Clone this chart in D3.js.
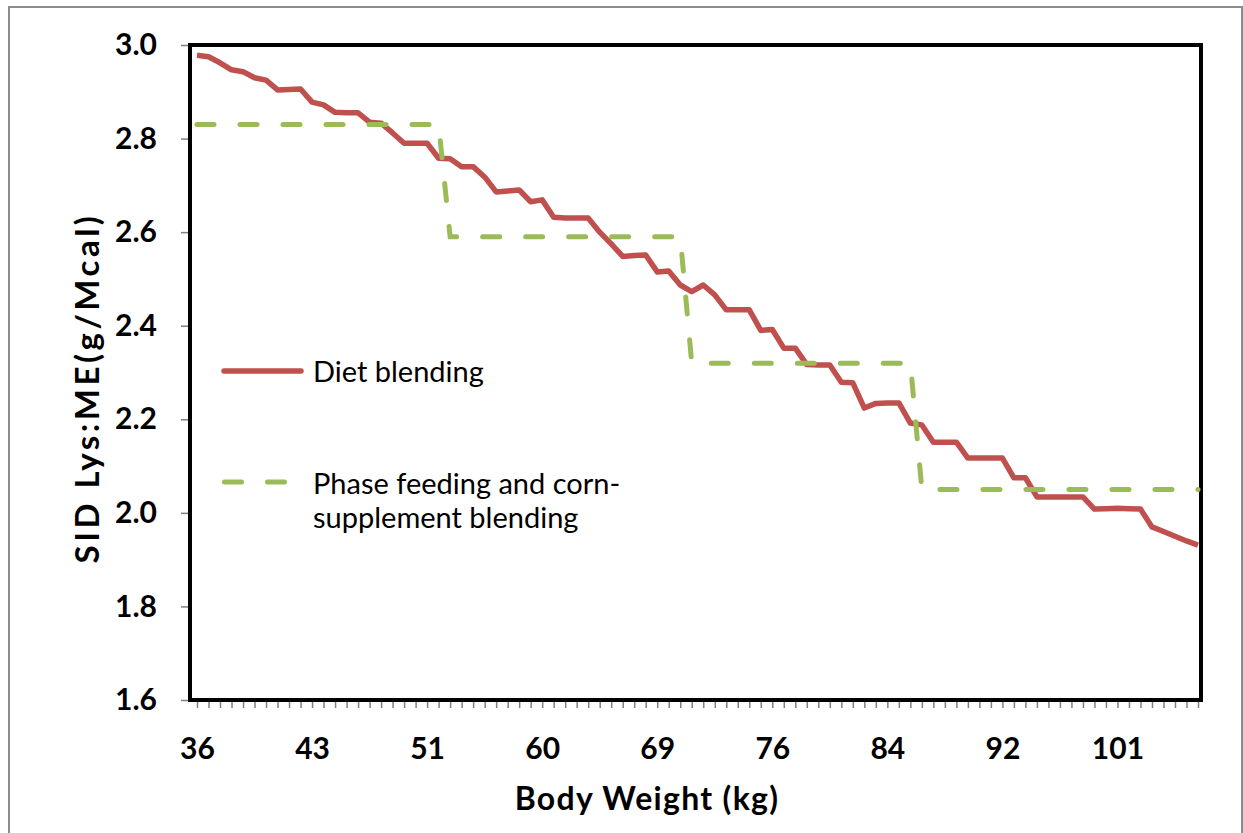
<!DOCTYPE html>
<html>
<head>
<meta charset="utf-8">
<script src="https://cdn.jsdelivr.net/npm/d3@7"></script>
<style>
  body { margin: 0; background: #fff; }
  text { font-family: Lato, 'DejaVu Sans', sans-serif; fill: #000; }
</style>
</head>
<body>
<svg id="chart" width="1243" height="833"></svg>
<script>
// x labels, shown on every 10th category
const tickLabels = ['36', '43', '51', '60', '69', '76', '84', '92', '101']

const dietBlending = [
  2.978, 2.975, 2.962, 2.947, 2.943, 2.930, 2.925, 2.904, 2.905, 2.906,
  2.878, 2.872, 2.856, 2.855, 2.855, 2.835, 2.833, 2.812, 2.790, 2.790,
  2.790, 2.758, 2.757, 2.740, 2.740, 2.718, 2.686, 2.688, 2.690, 2.665,
  2.669, 2.632, 2.630, 2.630, 2.630, 2.600, 2.575, 2.548, 2.550, 2.551,
  2.515, 2.517, 2.487, 2.473, 2.487, 2.466, 2.434, 2.434, 2.434, 2.390,
  2.392, 2.352, 2.352, 2.317, 2.316, 2.316, 2.279, 2.278, 2.224, 2.234,
  2.235, 2.235, 2.192, 2.188, 2.151, 2.151, 2.151, 2.117, 2.117, 2.117,
  2.117, 2.075, 2.075, 2.034, 2.034, 2.034, 2.034, 2.034, 2.008, 2.009,
  2.010, 2.009, 2.008, 1.970, 1.960, 1.950, 1.940, 1.931
]

const phaseFeeding = [
  2.83, 2.83, 2.83, 2.83, 2.83, 2.83, 2.83, 2.83, 2.83, 2.83,
  2.83, 2.83, 2.83, 2.83, 2.83, 2.83, 2.83, 2.83, 2.83, 2.83,
  2.83, 2.83, 2.59, 2.59, 2.59, 2.59, 2.59, 2.59, 2.59, 2.59,
  2.59, 2.59, 2.59, 2.59, 2.59, 2.59, 2.59, 2.59, 2.59, 2.59,
  2.59, 2.59, 2.59, 2.32, 2.32, 2.32, 2.32, 2.32, 2.32, 2.32,
  2.32, 2.32, 2.32, 2.32, 2.32, 2.32, 2.32, 2.32, 2.32, 2.32,
  2.32, 2.32, 2.32, 2.05, 2.05, 2.05, 2.05, 2.05, 2.05, 2.05,
  2.05, 2.05, 2.05, 2.05, 2.05, 2.05, 2.05, 2.05, 2.05, 2.05,
  2.05, 2.05, 2.05, 2.05, 2.05, 2.05, 2.05, 2.05
]

const yTicks = [1.6, 1.8, 2.0, 2.2, 2.4, 2.6, 2.8, 3.0]

const legendNames = [['Diet blending'], ['Phase feeding and corn-', 'supplement blending']]

const red = '#c0504d'
const green = '#9bbb59'

const svg = d3.select('#chart')

const plot = { left: 190, top: 45, right: 1201, bottom: 700 }

const categories = d3.range(dietBlending.length)

const x = d3.scalePoint()
  .domain(categories)
  .range([plot.left + 7, plot.right - 3])
const y = d3.scaleLinear()
  .domain([1.6, 3.0])
  .range([plot.bottom, plot.top])

// outer chart border
svg.append('rect')
  .attr('x', 9)
  .attr('y', 7)
  .attr('width', 1233)
  .attr('height', 840)
  .attr('fill', 'none')
  .attr('stroke', '#8c8c8c')
  .attr('stroke-width', 2)

const yAxis = svg.append('g')
  .attr('transform', 'translate(' + plot.left + ',0)')
  .call(d3.axisLeft(y)
    .tickValues(yTicks)
    .tickFormat(d3.format('.1f'))
    .tickSize(9)
    .tickPadding(24))
yAxis.select('.domain').remove()
yAxis.selectAll('line').attr('stroke', '#808080').attr('stroke-width', 1.5)
yAxis.selectAll('text')
  .attr('font-size', 30)
  .attr('font-weight', 'bold')
  .attr('font-family', 'Lato')

const xAxis = svg.append('g')
  .attr('transform', 'translate(0,' + plot.bottom + ')')
  .call(d3.axisBottom(x)
    .tickValues(categories)
    .tickFormat(i => i % 10 === 0 ? tickLabels[i / 10] : '')
    .tickSize(8)
    .tickPadding(30))
xAxis.select('.domain').remove()
xAxis.selectAll('line').attr('stroke', '#808080').attr('stroke-width', 1.5)
xAxis.selectAll('text')
  .attr('font-size', 30)
  .attr('font-weight', 'bold')
  .attr('font-family', 'Lato')

// plot frame
svg.append('rect')
  .attr('x', plot.left)
  .attr('y', plot.top)
  .attr('width', plot.right - plot.left)
  .attr('height', plot.bottom - plot.top)
  .attr('fill', 'none')
  .attr('stroke', '#000')
  .attr('stroke-width', 4)

const line = d3.line()
  .x((d, i) => x(i))
  .y(d => y(d))

svg.append('path')
  .datum(dietBlending)
  .attr('d', line)
  .attr('fill', 'none')
  .attr('stroke', red)
  .attr('stroke-width', 5.5)
  .attr('stroke-linejoin', 'round')

svg.append('path')
  .datum(phaseFeeding)
  .attr('d', line)
  .attr('fill', 'none')
  .attr('stroke', green)
  .attr('stroke-width', 5)
  .attr('stroke-dasharray', '17,26')
  .attr('stroke-linecap', 'round')

// legend
const legend = svg.append('g')

legend.append('line')
  .attr('x1', 224).attr('x2', 301)
  .attr('y1', 371).attr('y2', 371)
  .attr('stroke', red)
  .attr('stroke-width', 5.5)
  .attr('stroke-linecap', 'round')

legend.append('line')
  .attr('x1', 224.5).attr('x2', 284.5)
  .attr('y1', 482).attr('y2', 482)
  .attr('stroke', green)
  .attr('stroke-width', 5)
  .attr('stroke-dasharray', '17,26')
  .attr('stroke-linecap', 'round')

const legendY = [382, 494]
legendNames.forEach((lines, k) => {
  const t = legend.append('text')
    .attr('x', 313)
    .attr('y', legendY[k])
    .attr('font-size', 29)
  lines.forEach((s, j) => {
    t.append('tspan')
      .attr('x', 313)
      .attr('dy', j === 0 ? 0 : 34)
      .text(s)
  })
})

// axis titles
svg.append('text')
  .attr('x', 647)
  .attr('y', 810)
  .attr('text-anchor', 'middle')
  .attr('font-size', 32)
  .attr('font-weight', 'bold')
  .attr('letter-spacing', 1.3)
  .text('Body Weight (kg)')

svg.append('text')
  .attr('transform', 'translate(99,388) rotate(-90)')
  .attr('text-anchor', 'middle')
  .attr('font-size', 33)
  .attr('font-weight', 'bold')
  .attr('letter-spacing', 3.5)
  .text('SID Lys:ME(g/Mcal)')
</script>
</body>
</html>
